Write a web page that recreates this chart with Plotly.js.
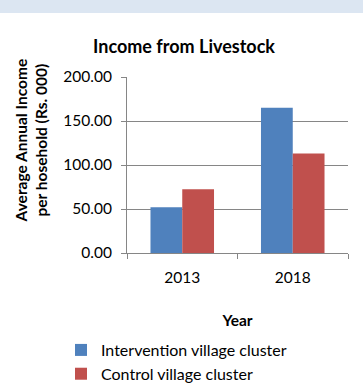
<!DOCTYPE html>
<html>
<head>
<meta charset="utf-8">
<script src="https://cdn.plot.ly/plotly-3.0.1.min.js"></script>
<style>
  html, body { margin: 0; padding: 0; background: #ffffff; }
  #band { position: absolute; left: 0; top: 0; width: 363px; height: 13px; background: #dce6f2; }
  #chart { position: absolute; left: 0; top: 0; width: 363px; height: 385px; }
</style>
</head>
<body>
<div id="band"></div>
<div id="chart"></div>
<script>
const years = ["2013", "2018"];
const interventionValues = [52, 165];
const controlValues = [72.5, 113];
const seriesNames = ["Intervention village cluster", "Control village cluster"];
const yTickValues = [0, 50, 100, 150, 200];

const FONT = "Lato, 'Open Sans', sans-serif";

const data = [
  { type: "bar", name: seriesNames[0], x: years, y: interventionValues,
    marker: { color: "#4f81bd", line: { width: 0 } } },
  { type: "bar", name: seriesNames[1], x: years, y: controlValues,
    marker: { color: "#c0504d", line: { width: 0 } } }
];

const layout = {
  width: 363, height: 385,
  margin: { l: 127, r: 15, t: 77, b: 132, pad: 0, autoexpand: false },
  paper_bgcolor: "rgba(0,0,0,0)",
  plot_bgcolor: "#ffffff",
  font: { family: FONT, size: 15.5, color: "#000000" },
  barmode: "group",
  bargap: 0.425,
  bargroupgap: 0,
  showlegend: true,
  title: { text: "<b>Income from Livestock</b>", x: 0.507, xref: "container", xanchor: "center",
           y: 0.88, yanchor: "middle", font: { family: FONT, size: 18, color: "#000" } },
  xaxis: {
    type: "category", automargin: false,
    showline: true, linecolor: "#868686", linewidth: 1,
    ticks: "outside", tickson: "boundaries", ticklen: 5, tickcolor: "#868686",
    showgrid: false,
    tickfont: { family: FONT, size: 15.5, color: "#000" },
    ticklabelstandoff: 10,
    title: { text: "<b>Year</b>", font: { family: FONT, size: 15.5, color: "#000" }, standoff: 30 }
  },
  yaxis: {
    range: [0, 200], automargin: false,
    tickvals: yTickValues,
    tickformat: ".2f",
    showline: true, linecolor: "#868686", linewidth: 1,
    ticks: "outside", ticklen: 5, tickcolor: "#868686",
    showgrid: true, gridcolor: "#868686", gridwidth: 1,
    zeroline: false,
    tickfont: { family: FONT, size: 15.5, color: "#000" },
    ticklabelstandoff: 6
  },
  legend: {
    orientation: "v", xref: "container", yref: "container",
    x: 0.168, xanchor: "left", y: 0.135, yanchor: "top",
    font: { family: FONT, size: 16, color: "#000" },
    itemwidth: 30, tracegroupgap: 0,
    bgcolor: "rgba(0,0,0,0)"
  },
  annotations: [
    { text: "<b>Average Annual Income<br>per hosehold (Rs. 000)</b>",
      xref: "paper", yref: "paper", x: -0.434, y: 0.64, xanchor: "center", yanchor: "middle",
      textangle: -90, showarrow: false,
      font: { family: FONT, size: 15.5, color: "#000" } }
  ]
};

Plotly.newPlot("chart", data, layout, { displayModeBar: false, staticPlot: true });
</script>
</body>
</html>
